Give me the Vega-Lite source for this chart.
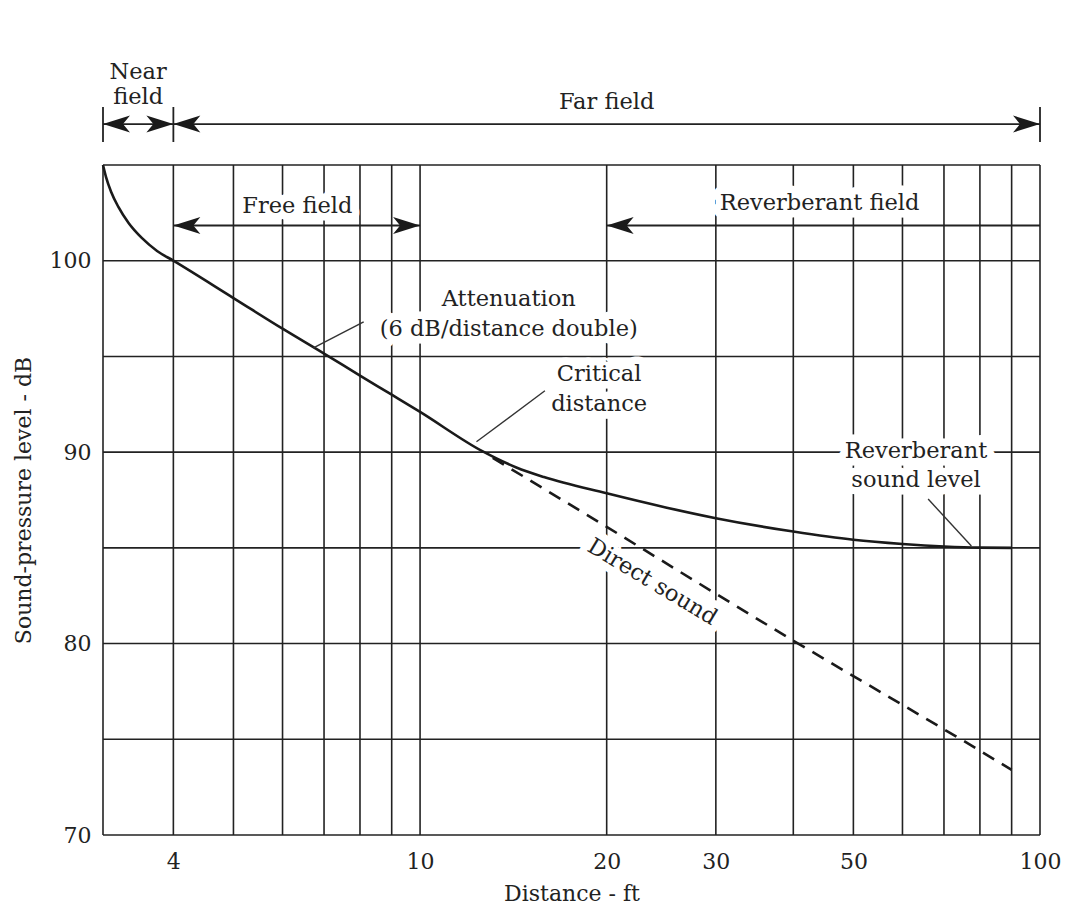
{
  "$schema": "https://vega.github.io/schema/vega-lite/v6.json",
  "width": 937,
  "height": 670,
  "autosize": {"type": "none"},
  "padding": {"left": 103, "top": 165, "right": 39, "bottom": 78},
  "background": "white",
  "config": {
    "view": {"stroke": null},
    "font": "DejaVu Serif",
    "text": {"font": "DejaVu Serif"}
  },
  "datasets": {
    "gridV": [
      {"x": 3.08, "y": 70, "y2": 105}, {"x": 4, "y": 70, "y2": 105}, {"x": 5, "y": 70, "y2": 105}, {"x": 6, "y": 70, "y2": 105},
      {"x": 7, "y": 70, "y2": 105}, {"x": 8, "y": 70, "y2": 105}, {"x": 9, "y": 70, "y2": 105}, {"x": 10, "y": 70, "y2": 105},
      {"x": 20, "y": 70, "y2": 105}, {"x": 30, "y": 70, "y2": 105}, {"x": 40, "y": 70, "y2": 105}, {"x": 50, "y": 70, "y2": 105},
      {"x": 60, "y": 70, "y2": 105}, {"x": 70, "y": 70, "y2": 105}, {"x": 80, "y": 70, "y2": 105}, {"x": 90, "y": 70, "y2": 105},
      {"x": 100, "y": 70, "y2": 105}
    ],
    "gridH": [
      {"y": 70, "x": 3.08, "x2": 100}, {"y": 75, "x": 3.08, "x2": 100}, {"y": 80, "x": 3.08, "x2": 100}, {"y": 85, "x": 3.08, "x2": 100},
      {"y": 90, "x": 3.08, "x2": 100}, {"y": 95, "x": 3.08, "x2": 100}, {"y": 100, "x": 3.08, "x2": 100}, {"y": 105, "x": 3.08, "x2": 100}
    ],
    "total": [
      {"x": 3.08, "y": 105.0}, {"x": 3.115, "y": 104.37}, {"x": 3.175, "y": 103.59}, {"x": 3.261, "y": 102.81},
      {"x": 3.387, "y": 101.97}, {"x": 3.557, "y": 101.19}, {"x": 3.765, "y": 100.51}, {"x": 4, "y": 100.0},
      {"x": 5, "y": 98.05}, {"x": 6, "y": 96.45}, {"x": 7, "y": 95.15}, {"x": 8, "y": 94.0}, {"x": 9, "y": 93.0},
      {"x": 10, "y": 92.1}, {"x": 12.6, "y": 90.05}, {"x": 14.3, "y": 89.2}, {"x": 15.84, "y": 88.7}, {"x": 20, "y": 87.85},
      {"x": 25, "y": 87.1}, {"x": 30, "y": 86.55}, {"x": 40, "y": 85.85}, {"x": 50, "y": 85.42},
      {"x": 60, "y": 85.2}, {"x": 70, "y": 85.07}, {"x": 80, "y": 85.01}, {"x": 90, "y": 85.0}
    ],
    "direct": [
      {"x": 13.1, "y": 89.7}, {"x": 20, "y": 86.1}, {"x": 30, "y": 82.6}, {"x": 40, "y": 80.15},
      {"x": 50, "y": 78.3}, {"x": 60, "y": 76.8}, {"x": 75, "y": 74.95}, {"x": 90, "y": 73.4}
    ],
    "spans": [
      {"x": 3.08, "x2": 100, "y": 107.14},
      {"x": 4, "x2": 10, "y": 101.84},
      {"x": 20, "x2": 100, "y": 101.84}
    ],
    "topTicks": [
      {"x": 3.08, "y": 106.2, "y2": 108.03},
      {"x": 4, "y": 106.2, "y2": 108.03},
      {"x": 100, "y": 106.2, "y2": 108.03}
    ],
    "arrows": [
      {"x": 3.08, "y": 107.14, "dir": "left"},
      {"x": 4, "y": 107.14, "dir": "right"},
      {"x": 4, "y": 107.14, "dir": "left"},
      {"x": 100, "y": 107.14, "dir": "right"},
      {"x": 4, "y": 101.84, "dir": "left"},
      {"x": 10, "y": 101.84, "dir": "right"},
      {"x": 20, "y": 101.84, "dir": "left"}
    ],
    "leaders": [
      {"x": 6.73, "y": 95.45, "x2": 8.11, "y2": 96.81},
      {"x": 12.33, "y": 90.54, "x2": 15.9, "y2": 93.21},
      {"x": 66.0, "y": 87.55, "x2": 77.5, "y2": 85.1}
    ],
    "labels": [
      {"x": 3.51, "y": 109.86, "text": "Near"},
      {"x": 3.51, "y": 108.55, "text": "field"},
      {"x": 20, "y": 108.29, "text": "Far field"},
      {"x": 6.34, "y": 102.87, "text": "Free field"},
      {"x": 44.1, "y": 103.03, "text": "Reverberant field"},
      {"x": 13.9, "y": 98.01, "text": "Attenuation"},
      {"x": 13.9, "y": 96.45, "text": "(6 dB/distance double)"},
      {"x": 19.45, "y": 94.1, "text": "Critical"},
      {"x": 19.45, "y": 92.53, "text": "distance"},
      {"x": 63.1, "y": 90.06, "text": "Reverberant"},
      {"x": 63.1, "y": 88.55, "text": "sound level"}
    ],
    "rotLabels": [
      {"x": 23.7, "y": 83.22, "text": "Direct sound"}
    ]
  },
  "encoding": {
    "x": {
      "field": "x", "type": "quantitative",
      "scale": {"type": "log", "domain": [3.08, 100], "nice": false, "zero": false},
      "axis": {
        "title": "Distance - ft", "values": [4, 10, 20, 30, 50, 100], "format": "d",
        "grid": false, "domain": false, "ticks": false, "labelFlush": false, "labelOverlap": false,
        "labelFont": "DejaVu Serif", "labelFontSize": 22, "labelColor": "#222", "labelPadding": 16,
        "titleFont": "DejaVu Serif", "titleFontSize": 22, "titleFontWeight": "normal", "titleColor": "#222", "titlePadding": 11
      }
    },
    "y": {
      "field": "y", "type": "quantitative",
      "scale": {"domain": [70, 105], "nice": false, "zero": false},
      "axis": {
        "title": "Sound-pressure level - dB", "values": [70, 80, 90, 100],
        "grid": false, "domain": false, "ticks": false, "labelFlush": false, "labelOverlap": false,
        "labelFont": "DejaVu Serif", "labelFontSize": 22, "labelColor": "#222", "labelPadding": 12,
        "titleFont": "DejaVu Serif", "titleFontSize": 22, "titleFontWeight": "normal", "titleColor": "#222", "titlePadding": 14
      }
    }
  },
  "layer": [
    {
      "data": {"name": "gridV"},
      "mark": {"type": "rule", "color": "#222", "strokeWidth": 1.6},
      "encoding": {"y2": {"field": "y2"}}
    },
    {
      "data": {"name": "gridH"},
      "mark": {"type": "rule", "color": "#222", "strokeWidth": 1.6},
      "encoding": {"x2": {"field": "x2"}}
    },
    {
      "data": {"name": "labels"},
      "mark": {"type": "text", "align": "center", "baseline": "middle", "fontSize": 22.5, "font": "DejaVu Serif", "fill": "white", "stroke": "white", "strokeWidth": 15, "strokeJoin": "round"},
      "encoding": {"text": {"field": "text"}}
    },
    {
      "data": {"name": "rotLabels"},
      "mark": {"type": "text", "align": "center", "baseline": "middle", "fontSize": 22.5, "angle": 31, "font": "DejaVu Serif", "fill": "white", "stroke": "white", "strokeWidth": 15, "strokeJoin": "round"},
      "encoding": {"text": {"field": "text"}}
    },
    {
      "data": {"name": "total"},
      "mark": {"type": "line", "color": "#1a1a1a", "strokeWidth": 2.6, "interpolate": "monotone"},
      "encoding": {}
    },
    {
      "data": {"name": "direct"},
      "mark": {"type": "line", "color": "#1a1a1a", "strokeWidth": 2.6, "strokeDash": [13, 9]},
      "encoding": {}
    },
    {
      "data": {"name": "leaders"},
      "mark": {"type": "rule", "color": "#333", "strokeWidth": 1.4},
      "encoding": {"x2": {"field": "x2"}, "y2": {"field": "y2"}}
    },
    {
      "data": {"name": "spans"},
      "mark": {"type": "rule", "color": "#222", "strokeWidth": 1.8},
      "encoding": {"x2": {"field": "x2"}}
    },
    {
      "data": {"name": "topTicks"},
      "mark": {"type": "rule", "color": "#222", "strokeWidth": 1.8},
      "encoding": {"y2": {"field": "y2"}}
    },
    {
      "data": {"name": "arrows"},
      "mark": {"type": "point", "filled": true, "color": "#1a1a1a", "opacity": 1, "size": 400},
      "encoding": {
        "shape": {
          "field": "dir", "type": "nominal", "legend": null,
          "scale": {"domain": ["left", "right"], "range": ["M0,0 L2.7,-0.85 L2.0,0 L2.7,0.85 Z", "M0,0 L-2.7,-0.85 L-2.0,0 L-2.7,0.85 Z"]}
        }
      }
    },
    {
      "data": {"name": "labels"},
      "mark": {"type": "text", "align": "center", "baseline": "middle", "fontSize": 22.5, "font": "DejaVu Serif", "color": "#222"},
      "encoding": {"text": {"field": "text"}}
    },
    {
      "data": {"name": "rotLabels"},
      "mark": {"type": "text", "align": "center", "baseline": "middle", "fontSize": 22.5, "angle": 31, "font": "DejaVu Serif", "color": "#222"},
      "encoding": {"text": {"field": "text"}}
    }
  ]
}
